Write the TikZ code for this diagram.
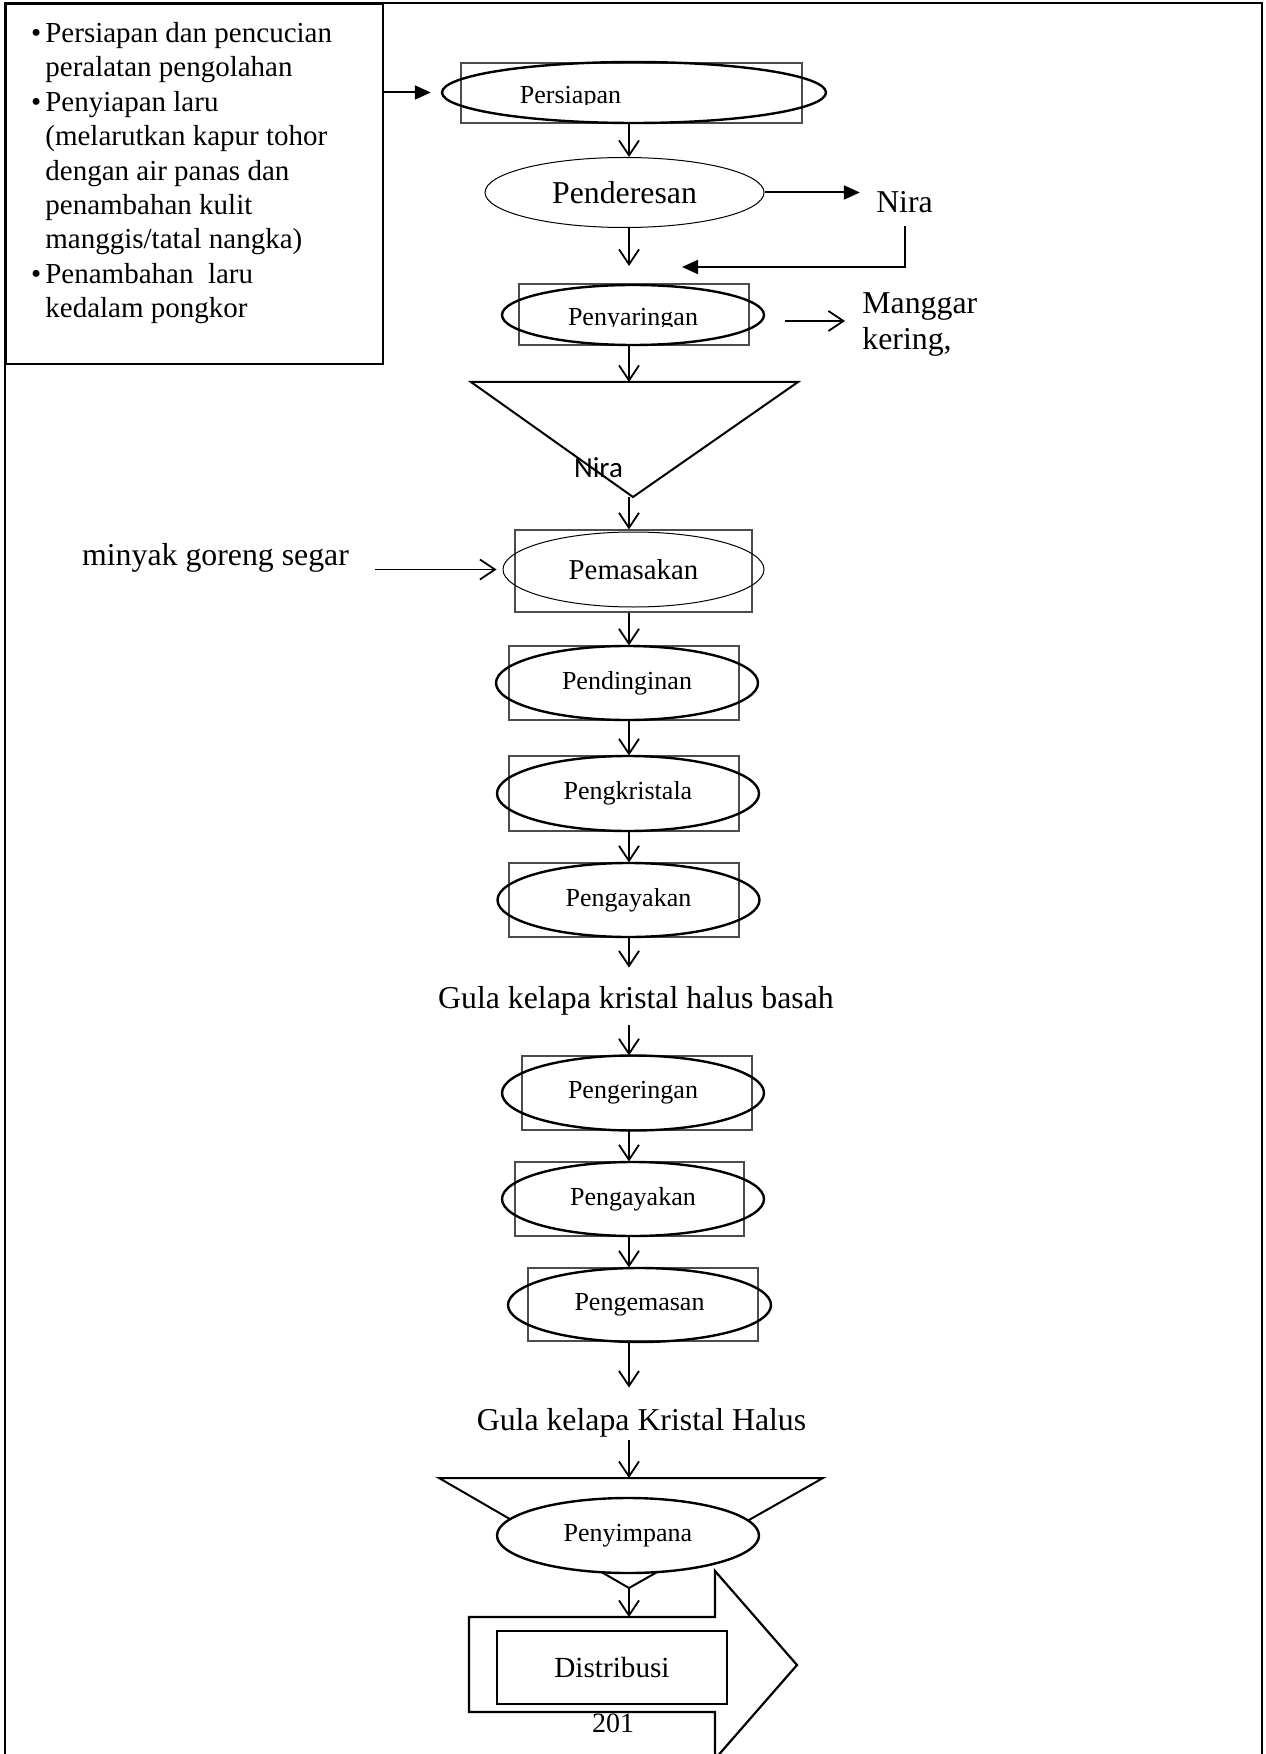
\documentclass[tikz,border=0pt]{standalone}
\usepackage{fontspec}
\setmainfont{Liberation Serif}
\newfontfamily\calibrifont{Carlito}
\usetikzlibrary{arrows.meta,shapes.geometric}
\begin{document}
\begin{tikzpicture}[x=0.5pt,y=-0.5pt,
  varrow/.style={-{Straight Barb[length=7.5pt,width=10pt]},line width=0.9pt},
  farrow/.style={-{Triangle[length=8pt,width=7pt]},line width=1pt},
  procrect/.style={draw=black!70,line width=0.6pt,rectangle,inner sep=0pt},
  procell/.style={draw,ellipse,line width=1.2pt,inner sep=0pt,minimum width=131pt,minimum height=37pt,font=\fontsize{13}{15}\selectfont},
  thinell/.style={procell,line width=0.5pt},
  bigtext/.style={font=\fontsize{15.9}{18}\selectfont,inner sep=0pt},
  shapeline/.style={line width=1pt,line join=miter},
]
\useasboundingbox (0,0) rectangle (1265,1754);
\coordinate (ax) at (629,0);

% page frame
\draw[line width=1pt] (5,1760) -- (5,3) -- (1262,3) -- (1262,1760);

% info box
\node[draw,line width=1pt,rectangle,minimum width=188.5pt,minimum height=180pt,inner sep=0pt,anchor=north west] (infobox) at (5,3) {};
\node[anchor=north west,align=left,inner sep=0pt,font=\fontsize{14.5}{17.2}\selectfont] (infotext) at (45,22)
 {\llap{\textbullet\hspace{2pt}}Persiapan dan pencucian\\
  peralatan pengolahan\\
  \llap{\textbullet\hspace{2pt}}Penyiapan laru\\
  (melarutkan kapur tohor\\
  dengan air panas dan\\
  penambahan kulit\\
  manggis/tatal nangka)\\
  \llap{\textbullet\hspace{2pt}}Penambahan\ \ laru\\
  kedalam pongkor};

% Persiapan
\node[procrect,minimum width=170.5pt,minimum height=30pt] (r1) at (631.5,93) {};
\node[procell,minimum width=192pt,minimum height=30.5pt] (e1) at (634,92.5) {};
\begin{scope}
  \clip (440,60) rectangle (830,105);
  \node[anchor=base,inner sep=0pt,font=\fontsize{13}{15}\selectfont] (t1) at (570.5,104) {Persiapan};
\end{scope}
\draw[farrow] (infobox.east |- e1.west) -- ([xshift=-5pt]e1.west);

% Penderesan
\node[thinell,minimum width=139.5pt,minimum height=35pt,font=\fontsize{15.9}{18}\selectfont] (e2) at (624.5,192.5) {Penderesan};
\draw[varrow] (e1.south -| ax) -- (e2.north -| ax);
\node[bigtext,anchor=base] (nira1) at (904.5,213) {Nira};
\draw[farrow] (e2.east) -- ([xshift=-8pt]nira1.west |- e2.east);
\coordinate (ret) at (682,267);
\draw[farrow] ([yshift=-6pt]nira1.south) |- (ret);
\coordinate (join) at (629,266);
\draw[varrow] (e2.south -| ax) -- (join);

% Penyaringan
\node[procrect,minimum width=115pt,minimum height=30.5pt] (r3) at (634,314.5) {};
\node[procell,minimum width=131pt,minimum height=30pt] (e3) at (633,315) {};
\begin{scope}
  \clip (500,285) rectangle (770,327);
  \node[anchor=base,inner sep=0pt,font=\fontsize{13}{15}\selectfont] (t3) at (633,326) {Penyaringan};
\end{scope}
\node[bigtext,anchor=north west,align=left] (mang) at (862,292) {Manggar\\kering,};
\coordinate (mgtip) at (845,321);
\draw[varrow] ([xshift=10pt,yshift=-3pt]e3.east) -- (mgtip);

% triangle Nira
\coordinate (tA) at (471,382);
\coordinate (tB) at (798,382);
\coordinate (tC) at (633,497);
\draw[shapeline] (tA) -- (tB) -- (tC) -- cycle;
\draw[varrow] (e3.south -| ax) -- (tA -| ax);
\node[anchor=base,inner sep=0pt,font=\calibrifont\fontsize{14.5}{17}\selectfont] (nira2) at (598.5,478) {Nira};

% Pemasakan
\node[procrect,minimum width=118.5pt,minimum height=41pt] (r4) at (633.5,571) {};
\node[thinell,minimum width=130.5pt,minimum height=37.5pt,font=\fontsize{14.4}{17}\selectfont] (e4) at (633.5,569.5) {Pemasakan};
\draw[varrow] (tC -| ax) -- (r4.north -| ax);
\node[bigtext,anchor=base] (minyak) at (215.5,565) {minyak goreng segar};
\draw[varrow] ([xshift=13pt]minyak.east |- e4.west) -- ([xshift=-3pt]e4.west);

% Pendinginan
\node[procrect,minimum width=115pt,minimum height=37pt] (r5) at (624,683) {};
\node[procell,minimum width=131pt,minimum height=37pt] (e5) at (627,683) {Pendinginan};
\draw[varrow] (r4.south -| ax) -- (r5.north -| ax);

% Pengkristala
\node[procrect,minimum width=115pt,minimum height=37.5pt] (r6) at (624,793.5) {};
\node[procell,minimum width=131pt,minimum height=37.5pt] (e6) at (628,793.5) {Pengkristala};
\draw[varrow] (r5.south -| ax) -- (r6.north -| ax);

% Pengayakan
\node[procrect,minimum width=115pt,minimum height=37pt] (r7) at (624,900) {};
\node[procell,minimum width=131pt,minimum height=37pt] (e7) at (628.5,900) {Pengayakan};
\draw[varrow] (r6.south -| ax) -- (r7.north -| ax);

% Gula kelapa kristal halus basah
\node[bigtext,anchor=base] (gula1) at (636,1008) {Gula kelapa kristal halus basah};
\draw[varrow] (r7.south -| ax) -- ([yshift=9pt]gula1.north -| ax);

% Pengeringan
\node[procrect,minimum width=115pt,minimum height=37pt] (r8) at (637,1093) {};
\node[procell,minimum width=131pt,minimum height=37.5pt] (e8) at (633,1093) {Pengeringan};
\draw[varrow] ([yshift=-5pt]gula1.south -| ax) -- (r8.north -| ax);

% Pengayakan 2
\node[procrect,minimum width=114.5pt,minimum height=37pt] (r9) at (629.5,1199) {};
\node[procell,minimum width=131pt,minimum height=37pt] (e9) at (633,1199) {Pengayakan};
\draw[varrow] (r8.south -| ax) -- (r9.north -| ax);

% Pengemasan
\node[procrect,minimum width=115pt,minimum height=36.5pt] (r10) at (643,1304.5) {};
\node[procell,minimum width=131.5pt,minimum height=37pt] (e10) at (639.5,1305) {Pengemasan};
\draw[varrow] (r9.south -| ax) -- (r10.north -| ax);

% Gula kelapa Kristal Halus
\node[bigtext,anchor=base] (gula2) at (641.5,1430) {Gula kelapa Kristal Halus};
\draw[varrow] (e10.south -| ax) -- ([yshift=10pt]gula2.north -| ax);

% storage triangle + Penyimpana
\coordinate (sA) at (439,1478);
\coordinate (sB) at (823,1478);
\coordinate (sC) at (629,1588);
\draw[shapeline] (sA) -- (sB) -- (sC) -- cycle;
\draw[varrow] ([yshift=-1.5pt]gula2.south -| ax) -- (sA -| ax);
\node[procell,fill=white,minimum width=131pt,minimum height=37.5pt] (e11) at (628,1535.5) {Penyimpana};

% block arrow Distribusi
\coordinate (bA) at (469,1617);
\coordinate (bB) at (715,1617);
\coordinate (bC) at (715,1571);
\coordinate (bD) at (797,1665);
\coordinate (bE) at (715,1759);
\coordinate (bF) at (715,1712);
\coordinate (bG) at (469,1712);
\draw[line width=1.1pt,line join=miter] (bA) -- (bB) -- (bC) -- (bD) -- (bE) -- (bF) -- (bG) -- cycle;
\draw[varrow] (sC) -- (sC |- bA);
\node[draw,line width=0.8pt,rectangle,inner sep=0pt,minimum width=115pt,minimum height=36.5pt,font=\fontsize{14.6}{17}\selectfont] (distr) at (612,1667.5) {Distribusi};
\node[anchor=base,inner sep=0pt,font=\fontsize{14}{16}\selectfont] (pagenum) at (613,1732) {201};
\end{tikzpicture}
\end{document}
